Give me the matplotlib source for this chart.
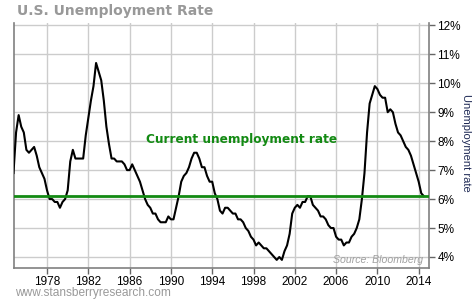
import matplotlib
matplotlib.use("Agg")
import matplotlib.pyplot as plt
import numpy as np

# Quarterly U.S. unemployment rate (%)
start_year = 1974.75
rates = [
    6.9,
    8.3, 8.9, 8.5, 8.3,
    7.7, 7.6, 7.7, 7.8,
    7.5, 7.1, 6.9, 6.7,
    6.3, 6.0, 6.0, 5.9,
    5.9, 5.7, 5.9, 6.0,
    6.3, 7.3, 7.7, 7.4,
    7.4, 7.4, 7.4, 8.2,
    8.8, 9.4, 9.9, 10.7,
    10.4, 10.1, 9.4, 8.5,
    7.9, 7.4, 7.4, 7.3,
    7.3, 7.3, 7.2, 7.0,
    7.0, 7.2, 7.0, 6.8,
    6.6, 6.3, 6.0, 5.8,
    5.7, 5.5, 5.5, 5.3,
    5.2, 5.2, 5.2, 5.4,
    5.3, 5.3, 5.7, 6.1,
    6.6, 6.8, 6.9, 7.1,
    7.4, 7.6, 7.6, 7.4,
    7.1, 7.1, 6.8, 6.6,
    6.6, 6.2, 6.0, 5.6,
    5.5, 5.7, 5.7, 5.6,
    5.5, 5.5, 5.3, 5.3,
    5.2, 5.0, 4.9, 4.7,
    4.6, 4.4, 4.5, 4.4,
    4.3, 4.3, 4.2, 4.1,
    4.0, 3.9, 4.0, 3.9,
    4.2, 4.4, 4.8, 5.5,
    5.7, 5.8, 5.7, 5.9,
    5.9, 6.1, 6.1, 5.8,
    5.7, 5.6, 5.4, 5.4,
    5.3, 5.1, 5.0, 5.0,
    4.7, 4.6, 4.6, 4.4,
    4.5, 4.5, 4.7, 4.8,
    5.0, 5.3, 6.0, 6.9,
    8.3, 9.3, 9.6, 9.9,
    9.8, 9.6, 9.5, 9.5,
    9.0, 9.1, 9.0, 8.6,
    8.3, 8.2, 8.0, 7.8,
    7.7, 7.5, 7.2, 6.9,
    6.6, 6.2, 6.1,
]
years = start_year + 0.25 * np.arange(len(rates))
current_rate = 6.1
x_ticks = [1978, 1982, 1986, 1990, 1994, 1998, 2002, 2006, 2010, 2014]
y_ticks = [4, 5, 6, 7, 8, 9, 10, 11, 12]

plt.rcParams['font.family'] = ['Liberation Sans', 'DejaVu Sans']

fig = plt.figure(figsize=(4.73, 3.01), dpi=100)
ax = fig.add_axes([14/473, 33/301, (429-14)/473, (268-23)/301])

ax.plot(years, rates, color='black', lw=1.5, zorder=3)
ax.axhline(current_rate, color='#138a13', lw=2, zorder=4)

ax.set_xlim(1974.8, 2015.0)
ax.set_ylim(3.62, 12.08)
ax.set_xticks(x_ticks)
ax.set_yticks(y_ticks)
ax.set_yticklabels([f"{v}%" for v in y_ticks])
ax.grid(True, color='#cccccc', lw=1)
ax.set_axisbelow(True)

ax.yaxis.tick_right()
ax.yaxis.set_label_position('right')
ax.tick_params(axis='both', labelsize=8.5, colors='#666666', labelcolor='black', length=4, width=1)
ax.tick_params(axis='y', pad=2)
ax.tick_params(axis='x', pad=2)

for s in ['left', 'bottom', 'right']:
    ax.spines[s].set_color('#808080')
    ax.spines[s].set_linewidth(1.2)
ax.spines['top'].set_visible(False)

ax.set_ylabel('Unemployment rate', rotation=-90, fontsize=8, color='#1f2a55',
              va='center', ha='center')
ax.yaxis.set_label_coords((466 - 14) / 415, 0.51)

ax.text(1996.8, 8.06, 'Current unemployment rate', color='#138a13', fontsize=8.7,
        fontweight='bold', family='DejaVu Sans', ha='center', va='center', zorder=5)
ax.text(2014.4, 3.72, 'Source: Bloomberg', color='#a0a0a0', fontsize=7.6, style='italic',
        ha='right', va='bottom')

fig.text(17/473, 1 - 11/301, 'U.S. Unemployment Rate', color='#999999', fontsize=10,
         fontweight='bold', family='DejaVu Sans', ha='left', va='center')
fig.text(15/473, 1 - 293/301, 'www.stansberryresearch.com', color='#999999', fontsize=8.6,
         ha='left', va='center')

fig.savefig('out.png', dpi=100)
